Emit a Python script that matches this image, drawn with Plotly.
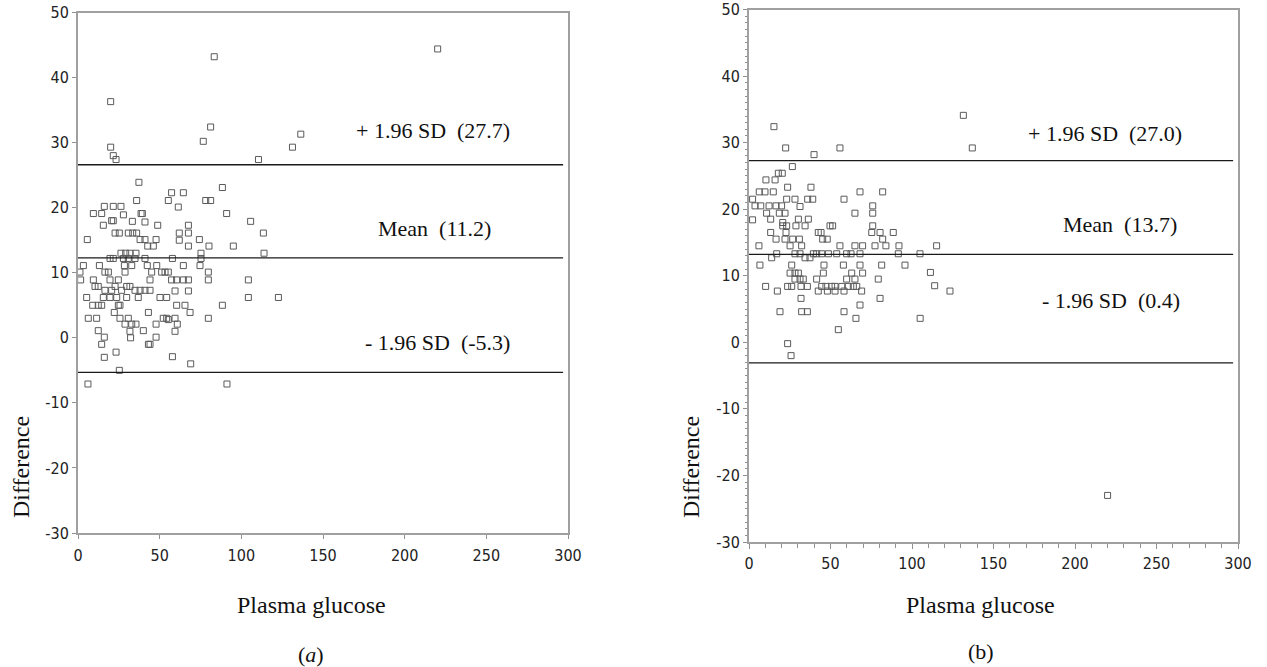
import plotly.graph_objects as go

W, H = 1267, 667

# ---------------- data ----------------
a_x = [83.4, 220.2, 20.0, 81.2, 76.7, 136.4, 131.3, 20.0, 21.6, 23.3, 110.5,
       37.3, 57.3, 64.5, 88.4, 35.9, 55.3, 78.2, 81.2, 61.4, 16.1, 21.6, 26.3, 9.4, 14.5, 27.8, 38.6, 39.4, 91.0,
       15.5, 20.6, 21.6, 33.3, 41.0, 48.8, 67.6, 105.7, 22.7, 25.3, 30.8, 33.5, 35.9, 62.0, 67.6, 113.5,
       5.7, 38.0, 41.0, 47.8, 62.0, 74.3, 42.7, 46.1, 67.6, 80.2, 95.1, 26.3, 29.2, 31.8, 35.5, 75.3, 113.9,
       19.6, 21.6, 27.8, 30.8, 34.9, 41.0, 57.8, 75.3, 3.3, 13.1, 28.4, 32.9, 42.4, 48.2, 64.5, 74.7,
       1.2, 16.5, 18.6, 28.8, 45.1, 51.2, 53.3, 55.3, 79.8, 1.6, 9.4, 19.6, 24.7, 44.1, 57.3, 60.4, 64.5, 67.6,
       79.8, 104.3, 10.4, 12.4, 22.7, 29.8, 31.8, 34.9, 38.0, 41.0, 44.1, 16.5, 20.6, 26.7, 59.4, 67.6,
       5.3, 15.5, 19.6, 23.7, 29.8, 36.9, 50.2, 54.3, 104.3, 122.7, 9.0, 12.4, 14.5, 24.7, 25.7, 60.4, 65.5, 88.4,
       22.2, 43.1, 68.6, 6.3, 11.4, 25.7, 30.8, 52.2, 54.3, 59.4, 79.8, 28.8, 32.9, 35.5, 47.8, 55.3, 60.8,
       12.4, 40.0, 59.4, 31.8, 16.1, 32.2, 47.8, 14.5, 43.1, 44.1, 23.3, 16.1, 57.8, 69.0, 25.3, 6.1, 91.2]
a_y = [43.2, 44.4, 36.3, 32.4, 30.2, 31.3, 29.3, 29.3, 28.0, 27.4, 27.4,
       23.9, 22.3, 22.3, 23.1, 21.1, 21.1, 21.1, 21.1, 20.1, 20.2, 20.2, 20.2, 19.1, 19.1, 18.9, 19.1, 19.1, 19.1,
       17.3, 18.0, 18.0, 17.9, 17.8, 17.3, 17.3, 17.9, 16.1, 16.1, 16.1, 16.1, 16.1, 16.1, 16.1, 16.1,
       15.1, 15.1, 15.1, 15.1, 15.0, 15.1, 14.1, 14.1, 14.1, 14.1, 14.1, 13.0, 13.0, 13.0, 13.0, 13.0, 13.0,
       12.2, 12.2, 12.2, 12.2, 12.2, 12.2, 12.2, 12.2, 11.1, 11.1, 11.1, 11.1, 11.1, 11.1, 11.1, 11.1,
       10.1, 10.1, 10.1, 10.1, 10.1, 10.1, 10.1, 10.1, 10.1, 8.9, 8.9, 8.9, 8.9, 8.9, 8.9, 8.9, 8.9, 8.9,
       8.9, 8.9, 7.9, 7.9, 7.9, 7.9, 7.9, 7.3, 7.3, 7.3, 7.3, 7.3, 7.3, 7.3, 7.2, 7.2,
       6.2, 6.2, 6.2, 6.2, 6.2, 6.2, 6.2, 6.2, 6.2, 6.2, 5.0, 5.0, 5.0, 5.0, 5.0, 5.0, 5.0, 5.0,
       3.9, 3.9, 3.9, 3.0, 3.0, 3.0, 3.0, 3.0, 3.0, 3.0, 3.0, 2.1, 2.1, 2.1, 2.1, 2.8, 2.1,
       1.1, 1.1, 1.0, 1.0, 0.1, 0.0, 0.1, -1.0, -1.0, -1.0, -2.2, -3.0, -2.9, -4.0, -5.0, -7.1, -7.1]

b_x = [131.5, 15.3, 22.5, 55.8, 137.0, 39.9, 26.6, 18.0, 20.4, 10.4, 16.0, 23.7, 38.0, 6.3, 9.8, 14.9, 68.1, 82.0,
       2.2, 23.1, 28.2, 36.0, 39.1, 58.3, 3.7, 7.2, 12.3, 16.6, 20.0, 31.3, 75.9, 10.8, 18.6, 22.1, 65.0, 75.9,
       2.2, 13.3, 20.7, 30.3, 36.4, 28.8, 34.4, 20.7, 23.1, 49.7, 51.3, 75.9, 13.3, 22.7, 42.5, 44.2, 75.3, 80.4, 88.5,
       16.6, 22.1, 26.8, 30.9, 45.2, 48.0, 82.0, 6.1, 25.2, 32.3, 55.8, 65.0, 69.7, 77.3, 84.0, 92.0, 115.1,
       17.0, 13.9, 28.2, 31.3, 39.5, 41.5, 44.6, 34.4, 37.4, 48.7, 53.8, 59.9, 62.6, 68.1, 91.6, 104.9,
       6.7, 26.2, 46.0, 57.9, 68.1, 81.4, 95.7, 25.2, 28.2, 30.3, 45.6, 63.0, 69.7,
       28.2, 31.3, 33.3, 41.5, 59.9, 65.0, 79.3, 10.2, 23.7, 26.2, 31.9, 35.8, 44.6, 47.2, 50.7, 52.8, 56.9, 60.9, 64.0, 66.1,
       17.4, 42.5, 48.1, 52.8, 58.3, 69.1, 31.9, 80.4, 68.1, 19.0, 32.3, 35.8, 58.3, 65.6, 54.8, 23.7, 25.8,
       111.3, 113.9, 123.3, 105.0, 220.0]
b_y = [34.1, 32.4, 29.2, 29.2, 29.2, 28.2, 26.4, 25.4, 25.4, 24.4, 24.4, 23.3, 23.3, 22.6, 22.6, 22.6, 22.6, 22.6,
       21.5, 21.5, 21.5, 21.5, 21.5, 21.5, 20.5, 20.5, 20.5, 20.5, 20.5, 20.4, 20.5, 19.4, 19.4, 19.4, 19.4, 19.4,
       18.4, 18.5, 18.0, 18.5, 18.5, 17.5, 17.5, 17.5, 17.5, 17.5, 17.5, 17.5, 16.5, 16.5, 16.5, 16.5, 16.5, 16.5, 16.5,
       15.5, 15.5, 15.5, 15.5, 15.5, 15.5, 15.5, 14.5, 14.5, 14.5, 14.5, 14.5, 14.5, 14.5, 14.5, 14.5, 14.5,
       13.3, 12.7, 13.3, 13.3, 13.3, 13.3, 13.3, 12.7, 12.7, 13.3, 13.3, 13.3, 13.3, 13.3, 13.3, 13.3,
       11.6, 11.6, 11.6, 11.6, 11.6, 11.6, 11.6, 10.4, 10.4, 10.4, 10.4, 10.4, 10.4,
       9.5, 9.5, 9.5, 9.5, 9.5, 9.5, 9.5, 8.4, 8.4, 8.4, 8.4, 8.4, 8.4, 8.4, 8.4, 8.4, 8.4, 8.4, 8.4, 8.4,
       7.7, 7.7, 7.7, 7.7, 7.7, 7.7, 6.6, 6.6, 5.6, 4.6, 4.6, 4.6, 4.6, 3.6, 1.9, -0.2, -2.0,
       10.5, 8.5, 7.7, 3.6, -23.0]

# limit lines (as drawn) and their labels
a_lines = [26.6, 12.3, -5.3]
b_lines = [27.3, 13.2, -3.1]
a_labels = ["+ 1.96 SD\u00a0\u00a0(27.7)", "Mean\u00a0\u00a0(11.2)", "- 1.96 SD\u00a0\u00a0(-5.3)"]
b_labels = ["+ 1.96 SD\u00a0\u00a0(27.0)", "Mean\u00a0\u00a0(13.7)", "- 1.96 SD\u00a0\u00a0(0.4)"]

x_ticks = [0, 50, 100, 150, 200, 250, 300]
x_ticktext = ["0", "50", "100", "150", "200", "250", "300"]
y_ticks = [50, 40, 30, 20, 10, 0, -10, -20, -30]
y_ticktext = ["50", "40", "30", "20", "10", "0", "-10", "-20", "-30"]

x_title = "Plasma glucose"
y_title = "Difference"
panel_labels = ["(<i>a</i>)", "(b)"]

# ---------------- figure ----------------
def px(x):
    return x / W

def py(y):
    return 1 - y / H

fig = go.Figure()
marker = dict(symbol="square-open", size=6, color="#5a5a5a", line=dict(width=1, color="#5a5a5a"))
fig.add_trace(go.Scatter(x=a_x, y=a_y, mode="markers", marker=marker, xaxis="x", yaxis="y", showlegend=False))
fig.add_trace(go.Scatter(x=b_x, y=b_y, mode="markers", marker=marker, xaxis="x2", yaxis="y2", showlegend=False))

tickfont = dict(family="DejaVu Sans Condensed, DejaVu Sans", size=16, color="#222222")
axis_common = dict(showline=True, linecolor="#a0a0a0", linewidth=2, mirror=True, automargin=False,
                   showgrid=False, zeroline=False, ticks="outside", tickcolor="#909090",
                   tickwidth=1, tickfont=tickfont, fixedrange=True)

fig.update_layout(
    template="none",
    width=W, height=H,
    margin=dict(l=0, r=0, t=0, b=0, pad=0),
    paper_bgcolor="white", plot_bgcolor="white",
    xaxis=dict(domain=[px(78), px(568)], range=[0, 300], anchor="y",
               tickvals=x_ticks, ticktext=x_ticktext, ticklen=4, ticklabelstandoff=3, **axis_common),
    yaxis=dict(domain=[py(533), py(12.5)], range=[-30, 50], anchor="x",
               tickvals=y_ticks, ticktext=y_ticktext, ticklen=4, **axis_common),
    xaxis2=dict(domain=[px(749), px(1238)], range=[0, 300], anchor="y2",
                tickvals=x_ticks, ticktext=x_ticktext, ticklen=5, ticklabelstandoff=1,
                minor=dict(ticks="outside", dtick=10, ticklen=4, tickcolor="#909090"), **axis_common),
    yaxis2=dict(domain=[py(542), py(9.5)], range=[-30, 50], anchor="x2",
                tickvals=y_ticks, ticktext=y_ticktext, ticklen=4,
                minor=dict(ticks="outside", dtick=1, ticklen=2, tickcolor="#909090"), **axis_common),
)

shapes = []
for v in a_lines:
    shapes.append(dict(type="line", xref="x domain", yref="y", x0=0, x1=0.99, y0=v, y1=v,
                       line=dict(color="#1a1a1a", width=1.3)))
for v in b_lines:
    shapes.append(dict(type="line", xref="x2 domain", yref="y2", x0=0, x1=0.99, y0=v, y1=v,
                       line=dict(color="#1a1a1a", width=1.3)))
fig.update_layout(shapes=shapes)

serif = "Liberation Serif"
ann = []
a_pos = [(433, 131), (434, 228), (437, 342)]
b_pos = [(1105, 133), (1120, 224), (1111, 300)]
for t, (x, y) in zip(a_labels + b_labels, a_pos + b_pos):
    ann.append(dict(text=t, x=px(x), y=py(y), xref="paper", yref="paper", showarrow=False,
                    xanchor="center", yanchor="middle", font=dict(family=serif, size=22, color="#111")))
for (x, y) in [(21, 467), (691, 467)]:
    ann.append(dict(text=y_title, x=px(x), y=py(y), xref="paper", yref="paper", showarrow=False,
                    textangle=-90, xanchor="center", yanchor="middle",
                    font=dict(family=serif, size=24, color="#111")))
for (x, y) in [(311, 605), (980, 605)]:
    ann.append(dict(text=x_title, x=px(x), y=py(y), xref="paper", yref="paper", showarrow=False,
                    xanchor="center", yanchor="middle", font=dict(family=serif, size=24, color="#111")))
for t, (x, y) in zip(panel_labels, [(311, 654), (981, 651)]):
    ann.append(dict(text=t, x=px(x), y=py(y), xref="paper", yref="paper", showarrow=False,
                    xanchor="center", yanchor="middle", font=dict(family=serif, size=22, color="#111")))
fig.update_layout(annotations=ann)

fig.write_html("out.html", config={"displayModeBar": False, "staticPlot": True},
               post_script="document.body.style.margin='0';document.body.style.overflow='hidden';")
